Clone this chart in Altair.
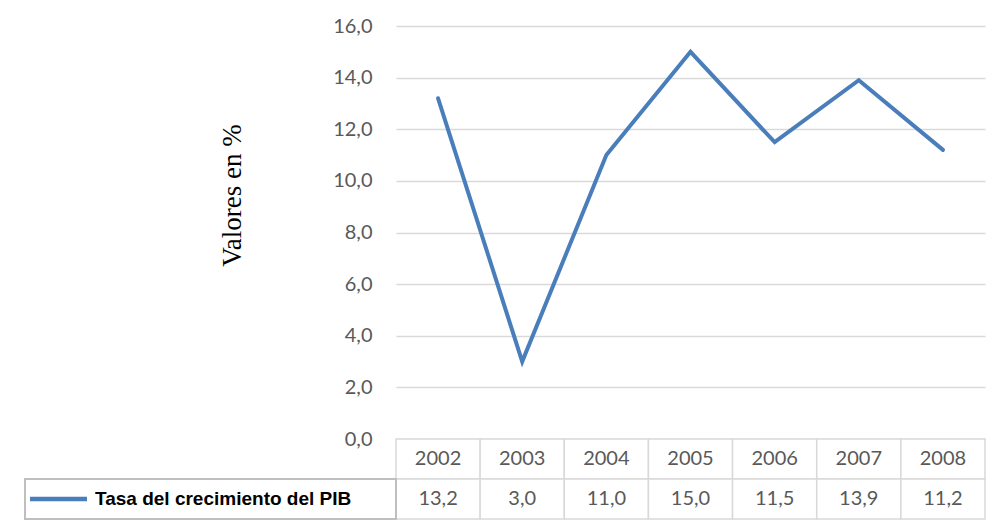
import altair as alt
import pandas as pd

# ---- data ----
years = ["2002", "2003", "2004", "2005", "2006", "2007", "2008"]
values = [13.2, 3.0, 11.0, 15.0, 11.5, 13.9, 11.2]
series_name = "Tasa del crecimiento del PIB"
axis_title = "Valores en %"
y_ticks = [0, 2, 4, 6, 8, 10, 12, 14, 16]
row_names = ["header", "value"]

LINE_COLOR = "#4a7ebb"
GRID = "#d9d9d9"
TXT = "#595959"

line_df = pd.DataFrame({"year": years, "value": values})

table_rows = []
for y, v in zip(years, values):
    table_rows.append({"year": y, "row": "header", "label": y})
    table_rows.append({"year": y, "row": "value", "label": f"{v:.1f}".replace(".", ",")})
table_df = pd.DataFrame(table_rows)

legend_df = pd.DataFrame({"row": ["value"], "name": [series_name]})

x_scale = alt.Scale(type="band", paddingInner=0, paddingOuter=0)
row_scale = alt.Scale(domain=row_names, range=[413, 493], paddingInner=0, paddingOuter=0)

x_enc = alt.X("year:O", scale=x_scale, axis=None, sort=years, bandPosition=0.5)
x_band = alt.X("year:O", scale=x_scale, axis=None, sort=years)

line = alt.Chart(line_df).mark_line(
    color=LINE_COLOR, strokeWidth=4, strokeCap="round", strokeJoin="miter"
).encode(
    x=x_enc,
    y=alt.Y(
        "value:Q",
        scale=alt.Scale(domain=[0, 16], range=[413, 0], nice=False),
        axis=alt.Axis(
            values=y_ticks,
            labelExpr="replace(format(datum.value, '.1f'), '.', ',')",
            labelFont="Lato",
            labelFontSize=20,
            labelColor=TXT,
            labelPadding=24,
            ticks=False,
            domain=False,
            grid=True,
            gridColor=GRID,
            gridWidth=1.5,
            title=axis_title,
            titleFont="Liberation Serif",
            titleFontSize=27,
            titleFontWeight="normal",
            titleColor="#000000",
            titleX=-156,
            titleY=169,
            titleBaseline="alphabetic",
            titleAngle=270,
        ),
    ),
)

cells = alt.Chart(table_df).mark_rect(fill="white", stroke=GRID, strokeWidth=1.5).encode(
    x=x_band,
    y=alt.Y("row:N", scale=row_scale, axis=None),
)

cell_text = alt.Chart(table_df).mark_text(
    font="Lato", fontSize=20, color=TXT, baseline="middle", align="center"
).encode(
    x=x_enc,
    y=alt.Y("row:N", scale=row_scale, axis=None, bandPosition=0.5),
    text="label:N",
)

legend_box = alt.Chart(legend_df).mark_rect(fill="white", stroke="#bfbfbf", strokeWidth=2).encode(
    x=alt.value(-371),
    x2=alt.value(0),
    y=alt.Y("row:N", scale=row_scale, axis=None),
)

legend_line = alt.Chart(legend_df).mark_rule(color=LINE_COLOR, strokeWidth=4.5).encode(
    x=alt.value(-366),
    x2=alt.value(-309),
    y=alt.Y("row:N", scale=row_scale, axis=None, bandPosition=0.5),
)

legend_text = alt.Chart(legend_df).mark_text(
    font="Liberation Sans", fontSize=19, fontWeight="bold", color="#000000",
    align="left", baseline="middle",
).encode(
    x=alt.value(-301),
    y=alt.Y("row:N", scale=row_scale, axis=None, bandPosition=0.5),
    text="name:N",
)

chart = alt.layer(
    line, cells, cell_text, legend_box, legend_line, legend_text
).resolve_scale(y="independent").properties(
    width=589,
    height=493,
    background="white",
    autosize=alt.AutoSizeParams(type="none"),
    padding={"left": 388, "top": 18, "right": 9, "bottom": 2},
).configure_view(strokeWidth=0)

chart.save("out.html", embed_options={"renderer": "svg", "actions": False})
